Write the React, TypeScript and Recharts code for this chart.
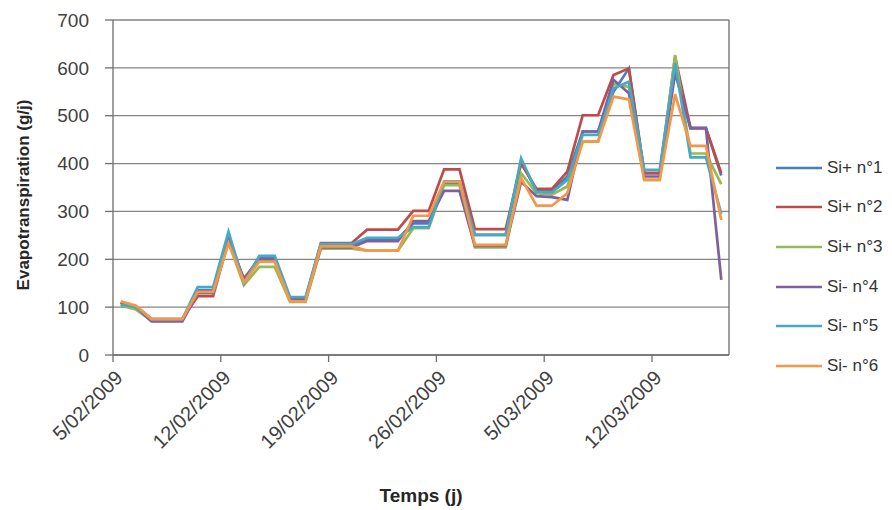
import { LineChart, Line, XAxis, YAxis, CartesianGrid, ReferenceLine } from 'recharts';

const seriesNames = ['Si+ n°1', 'Si+ n°2', 'Si+ n°3', 'Si- n°4', 'Si- n°5', 'Si- n°6'];
const seriesColors = ['#4a7ebb', '#be4b48', '#98b954', '#7d60a0', '#46aac5', '#f79646'];

const tickPositions = [-0.5, 6.5, 13.5, 20.5, 27.5, 34.5];
const tickLabels = ['5/02/2009', '12/02/2009', '19/02/2009', '26/02/2009', '5/03/2009', '12/03/2009'];

const siPlus1 = [108, 100, 72, 72, 72, 135, 135, 250, 155, 205, 205, 115, 115, 230, 230, 230, 243, 243, 243, 275, 275, 359, 359, 251, 251, 251, 405, 343, 343, 373, 467, 467, 550, 599, 380, 380, 600, 474, 474, 375];
const siPlus2 = [110, 102, 75, 75, 75, 123, 123, 240, 160, 200, 200, 118, 118, 234, 234, 234, 262, 262, 262, 301, 301, 388, 388, 263, 263, 263, 400, 347, 347, 383, 501, 501, 585, 599, 380, 380, 623, 474, 474, 380];
const siPlus3 = [103, 95, 72, 72, 72, 130, 130, 235, 146, 184, 184, 111, 111, 222, 222, 222, 218, 218, 218, 265, 265, 355, 355, 225, 225, 225, 380, 338, 335, 352, 446, 446, 566, 560, 366, 366, 627, 421, 421, 357];
const siMinus4 = [110, 100, 70, 70, 70, 130, 130, 245, 157, 200, 200, 115, 115, 225, 225, 225, 238, 238, 238, 280, 280, 343, 343, 228, 228, 228, 362, 332, 330, 324, 467, 467, 575, 547, 373, 373, 589, 474, 474, 157];
const siMinus5 = [105, 100, 75, 75, 75, 142, 142, 258, 150, 207, 207, 121, 121, 232, 232, 232, 245, 245, 245, 267, 267, 363, 363, 251, 251, 251, 411, 341, 340, 366, 460, 460, 557, 571, 387, 387, 610, 413, 413, 295];
const siMinus6 = [112, 103, 75, 75, 75, 132, 132, 234, 152, 195, 195, 112, 112, 227, 227, 227, 218, 218, 218, 291, 291, 362, 362, 230, 230, 230, 370, 312, 312, 338, 446, 446, 540, 534, 366, 366, 545, 437, 437, 282];

const allSeries = [siPlus1, siPlus2, siPlus3, siMinus4, siMinus5, siMinus6];

const data = siPlus1.map((_, i) => {
  const row: Record<string, number> = { day: i };
  allSeries.forEach((s, k) => {
    row['s' + k] = s[i];
  });
  return row;
});

const FONT = '"Liberation Sans", Arial, sans-serif';

function DateTick({ x, y, payload }: any) {
  const idx = tickPositions.indexOf(payload.value);
  return (
    <g transform={`translate(${x + 6},${y + 10})`}>
      <text x={0} y={0} dy="0.35em" textAnchor="end" transform="rotate(-45)" fill="#404040" fontSize={20} fontFamily={FONT}>
        {tickLabels[idx]}
      </text>
    </g>
  );
}

function YTitle() {
  return (
    <text x={21} y={187} transform="rotate(-90, 21, 187)" textAnchor="middle" fontWeight="bold" fontSize={17} fill="#262626" fontFamily={FONT}>
      Evapotranspiration (g/j)
    </text>
  );
}

function XTitle() {
  return (
    <text x={413} y={494} textAnchor="middle" fontWeight="bold" fontSize={19} fill="#262626" fontFamily={FONT}>
      Temps (j)
    </text>
  );
}

export default function App() {
  return (
    <div style={{ position: 'relative', width: 884, height: 500 }}>
      <LineChart width={884} height={500} data={data} margin={{ top: 12, right: 163, left: 60, bottom: 0 }}>
        <CartesianGrid horizontal vertical={false} stroke="#858585" strokeWidth={1.3} />
        <XAxis
          dataKey="day"
          type="number"
          domain={[-0.5, 39.5]}
          ticks={tickPositions}
          interval={0}
          height={153}
          tickSize={7}
          tick={<DateTick />}
          stroke="#6e6e6e"
          strokeWidth={1.3}
          label={<XTitle />}
        />
        <YAxis
          domain={[0, 700]}
          ticks={[0, 100, 200, 300, 400, 500, 600, 700]}
          width={45}
          tickSize={8}
          tickMargin={16}
          stroke="#6e6e6e"
          strokeWidth={1.3}
          tick={{ fill: '#404040', fontSize: 19, fontFamily: FONT }}
          label={<YTitle />}
        />
        <ReferenceLine x={39.5} stroke="#6e6e6e" strokeWidth={1.3} />
        {allSeries.map((_, k) => (
          <Line
            key={k}
            type="linear"
            dataKey={'s' + k}
            name={seriesNames[k]}
            stroke={seriesColors[k]}
            strokeWidth={2.7}
            dot={false}
            isAnimationActive={false}
          />
        ))}
      </LineChart>
      <div style={{ position: 'absolute', left: 768, top: 140, fontFamily: FONT, fontSize: 17, color: '#333333', whiteSpace: 'nowrap' }}>
        {seriesNames.map((name, k) => (
          <div key={name} style={{ height: 39.6, display: 'flex', alignItems: 'center' }}>
            <svg width={51} height={10}>
              <line x1={0} y1={5} x2={46} y2={5} stroke={seriesColors[k]} strokeWidth={2.7} />
            </svg>
            <span>{name}</span>
          </div>
        ))}
      </div>
    </div>
  );
}
